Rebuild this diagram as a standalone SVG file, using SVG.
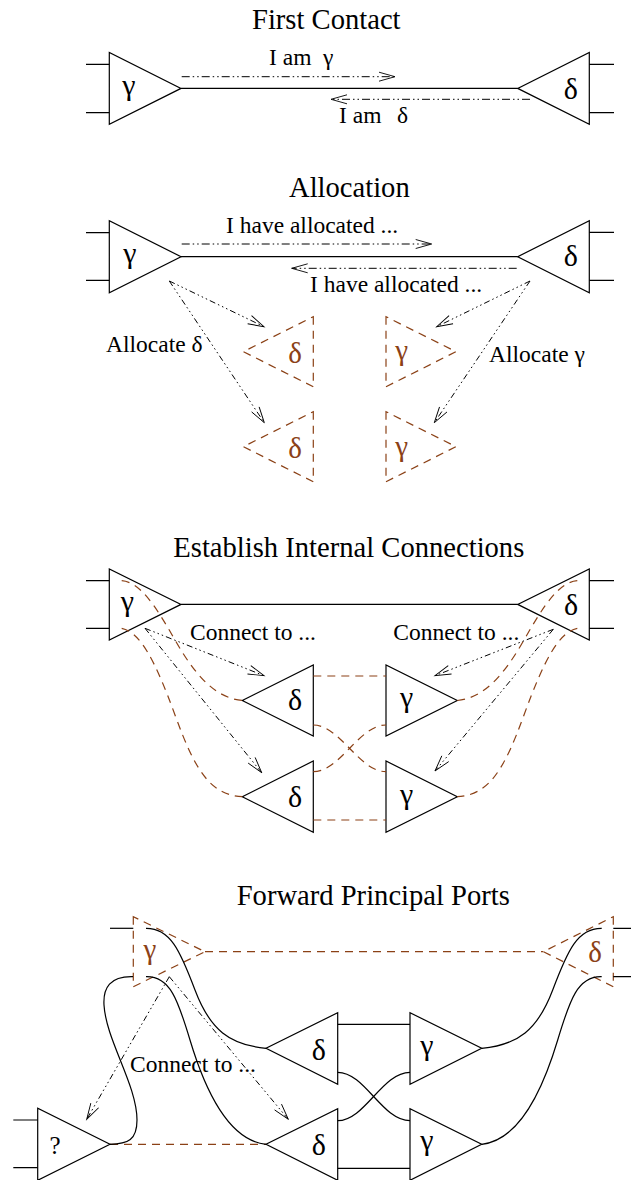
<svg xmlns="http://www.w3.org/2000/svg" width="631" height="1180" viewBox="0 0 631 1180">
  <style>
    text { font-family: "Liberation Serif", "Times New Roman", serif; fill: #000; }
    .title { font-size: 28.6px; }
    .lbl { font-size: 23.5px; }
    .sym { font-size: 30px; text-anchor: middle; }
    .symb { font-size: 29px; text-anchor: middle; fill: #8b4116; }
    .q { font-size: 25px; text-anchor: middle; }
    .agent { fill: none; stroke: #000; stroke-width: 1.2; stroke-linejoin: miter; }
    .ghost { fill: none; stroke: #8b4116; stroke-width: 1.2; stroke-dasharray: 8 6; }
    .wire { fill: none; stroke: #000; stroke-width: 1.2; }
    .dwire { fill: none; stroke: #8b4116; stroke-width: 1.2; stroke-dasharray: 8 6; }
    .msg { fill: none; stroke: #000; stroke-width: 1; stroke-dasharray: 8 3 1.5 3 1.5 3; marker-end: url(#ah); }
    .req { fill: none; stroke: #000; stroke-width: 1; stroke-dasharray: 6 3 1.5 3 1.5 3 1.5 3; marker-end: url(#ah); }
  </style>
  <defs>
    <marker id="ah" markerUnits="userSpaceOnUse" markerWidth="20" markerHeight="12" viewBox="-18 -6 20 12" refX="0" refY="0" orient="auto">
      <path d="M-16,-4.5 L0,0 L-16,4.5" fill="none" stroke="#000" stroke-width="0.9"/>
    </marker>
  </defs>

  <rect width="631" height="1180" fill="#fff"/>

  <!-- titles -->
  <text class="title" x="252" y="29">First Contact</text>
  <text class="title" x="289" y="196.7">Allocation</text>
  <text class="title" x="173.3" y="556.7">Establish Internal Connections</text>
  <text class="title" x="236.7" y="905">Forward Principal Ports</text>

  <!-- ===== First Contact ===== -->
  <g id="fc-gamma">
    <path class="agent" d="M109.3,52.5 L109.3,124.3 L181,88.4 Z"/>
    <path class="wire" d="M86,64.3 H109.3 M86,112.7 H109.3"/>
    <text class="sym" x="129" y="95">γ</text>
  </g>
  <g id="fc-delta">
    <path class="agent" d="M589.3,52.5 L589.3,124.3 L517.7,88.4 Z"/>
    <path class="wire" d="M589.3,64.3 H614 M589.3,112.7 H614"/>
    <text class="sym" x="570.8" y="98.5">δ</text>
  </g>
  <g id="fc-connectors">
    <path class="wire" d="M181,88.4 H517.7"/>
    <path class="msg" d="M181.7,76.7 H395"/>
    <path class="msg" d="M530,99.3 H331"/>
    <text class="lbl" x="269" y="65">I am<tspan x="323">γ</tspan></text>
    <text class="lbl" x="339" y="123">I am<tspan x="397">δ</tspan></text>
  </g>

  <!-- ===== Allocation ===== -->
  <g id="al-gamma">
    <path class="agent" d="M109.3,220.7 L109.3,292.7 L181,256.7 Z"/>
    <path class="wire" d="M86,232.7 H109.3 M86,280.3 H109.3"/>
    <text class="sym" x="130" y="263.4">γ</text>
  </g>
  <g id="al-delta">
    <path class="agent" d="M589.3,220.7 L589.3,292.7 L517.7,256.7 Z"/>
    <path class="wire" d="M589.3,232.3 H614 M589.3,280.3 H614"/>
    <text class="sym" x="570.8" y="266">δ</text>
  </g>
  <g id="al-new-delta-1">
    <path class="ghost" d="M313.3,316.7 L313.3,386.7 L243.3,351.7 Z"/>
    <text class="symb" x="295" y="363">δ</text>
  </g>
  <g id="al-new-delta-2">
    <path class="ghost" d="M313.3,411.7 L313.3,481.7 L243.3,446.7 Z"/>
    <text class="symb" x="295" y="458">δ</text>
  </g>
  <g id="al-new-gamma-1">
    <path class="ghost" d="M386,316.7 L386,386.7 L456,351.7 Z"/>
    <text class="symb" x="401.7" y="360">γ</text>
  </g>
  <g id="al-new-gamma-2">
    <path class="ghost" d="M386,411.7 L386,481.7 L456,446.7 Z"/>
    <text class="symb" x="401.7" y="455.7">γ</text>
  </g>
  <g id="al-connectors">
    <path class="wire" d="M181,256.7 H517.7"/>
    <path class="msg" d="M181.7,244 H431.7"/>
    <path class="msg" d="M516.7,268.3 H291.7"/>
    <text class="lbl" x="226" y="232.7">I have allocated ...</text>
    <text class="lbl" x="310" y="291.7">I have allocated ...</text>
    <path class="req" d="M169.3,281 L264,326.7"/>
    <path class="req" d="M169.3,281 L264.3,422.7"/>
    <path class="req" d="M530,281 L436.7,326.7"/>
    <path class="req" d="M530,281 L434.3,422.7"/>
    <text class="lbl" x="106" y="352.3">Allocate δ</text>
    <text class="lbl" x="489" y="362">Allocate γ</text>
  </g>

  <!-- ===== Establish Internal Connections ===== -->
  <g id="ic-gamma">
    <path class="agent" d="M109.3,569 L109.3,640 L181,604.4 Z"/>
    <path class="wire" d="M86,580.7 H109.3 M86,628.3 H109.3"/>
    <text class="sym" x="127.5" y="611">γ</text>
  </g>
  <g id="ic-delta">
    <path class="agent" d="M589.3,569 L589.3,640 L517.7,604.4 Z"/>
    <path class="wire" d="M589.3,580.7 H614 M589.3,628.3 H614"/>
    <text class="sym" x="571" y="614.5">δ</text>
  </g>
  <g id="ic-delta-1">
    <path class="agent" d="M313.3,665 L313.3,736 L242.3,700.5 Z"/>
    <text class="sym" x="295" y="709.5">δ</text>
  </g>
  <g id="ic-delta-2">
    <path class="agent" d="M313.3,761 L313.3,832.3 L242.3,796.7 Z"/>
    <text class="sym" x="295" y="807">δ</text>
  </g>
  <g id="ic-gamma-1">
    <path class="agent" d="M386,665 L386,736 L457.3,700.5 Z"/>
    <text class="sym" x="406.7" y="707">γ</text>
  </g>
  <g id="ic-gamma-2">
    <path class="agent" d="M386,761 L386,832.3 L457.3,796.7 Z"/>
    <text class="sym" x="406.7" y="803.5">γ</text>
  </g>
  <g id="ic-connectors">
    <path class="wire" d="M181,604.4 H517.7"/>
    <path class="dwire" d="M313.3,676 H386"/>
    <path class="dwire" d="M313.3,820 H386"/>
    <path class="dwire" d="M313.3,725 C340,725 359,771.7 386,771.7"/>
    <path class="dwire" d="M313.3,771.7 C340,771.7 359,725 386,725"/>
    <path class="dwire" d="M121.7,580.7 C140,582 155,605 175,640 S215,698 242.3,700.5"/>
    <path class="dwire" d="M121.7,628.3 C140,632 155,660 175,715 S210,795 242.3,796.7"/>
    <path class="dwire" d="M577.3,580.7 C559,582 544,605 524,640 S484,698 457.3,700.5"/>
    <path class="dwire" d="M577.3,628.3 C559,632 544,660 524,715 S489,795 457.3,796.7"/>
    <path class="req" d="M145,628.3 L264,675.7"/>
    <path class="req" d="M145,628.3 L261.7,772.7"/>
    <path class="req" d="M553.3,629.3 L435,675.7"/>
    <path class="req" d="M553.3,629.3 L435,771"/>
    <text class="lbl" x="190" y="640">Connect to ...</text>
    <text class="lbl" x="393.3" y="640">Connect to ...</text>
  </g>

  <!-- ===== Forward Principal Ports ===== -->
  <g id="fp-gamma">
    <path class="ghost" d="M133.3,916.7 L133.3,986.7 L205,951.7 Z"/>
    <path class="wire" d="M110,928.3 H133.3"/>
    <text class="symb" x="150" y="958.5">γ</text>
  </g>
  <g id="fp-delta">
    <path class="ghost" d="M613.3,916.7 L613.3,986.7 L543.3,951.7 Z"/>
    <path class="wire" d="M613.3,928.3 H631 M613.3,976.7 H631"/>
    <text class="symb" x="595" y="962">δ</text>
  </g>
  <g id="fp-unknown">
    <path class="agent" d="M37.7,1108.3 L37.7,1180.3 L110,1144.3 Z"/>
    <path class="wire" d="M13.3,1120 H37.7 M13.3,1167.7 H37.7"/>
    <text class="q" x="55" y="1154">?</text>
  </g>
  <g id="fp-delta-1">
    <path class="agent" d="M337.7,1012.7 L337.7,1084.3 L266,1048.3 Z"/>
    <text class="sym" x="318.8" y="1059.5">δ</text>
  </g>
  <g id="fp-delta-2">
    <path class="agent" d="M337.7,1108.7 L337.7,1180.3 L266,1144.3 Z"/>
    <text class="sym" x="318.8" y="1154.5">δ</text>
  </g>
  <g id="fp-gamma-1">
    <path class="agent" d="M410,1012.7 L410,1084.3 L481.7,1048.3 Z"/>
    <text class="sym" x="427" y="1055">γ</text>
  </g>
  <g id="fp-gamma-2">
    <path class="agent" d="M410,1108.7 L410,1180.3 L481.7,1144.3 Z"/>
    <text class="sym" x="427" y="1150">γ</text>
  </g>
  <g id="fp-connectors">
    <path class="dwire" d="M205,951.7 H543.3"/>
    <path class="dwire" d="M110,1144.3 H266"/>
    <path class="wire" d="M337.7,1024.3 H410"/>
    <path class="wire" d="M337.7,1168.3 H410"/>
    <path class="wire" d="M337.7,1072.3 C365,1072.3 382,1120.7 410,1120.7"/>
    <path class="wire" d="M337.7,1120.7 C365,1120.7 382,1072.3 410,1072.3"/>
    <path class="wire" d="M146,928.3 C170,928 180,950 195,990 S230,1045 266,1048.3"/>
    <path class="wire" d="M146,976.7 C170,976 178,1000 190,1040 S225,1140 266,1144.3"/>
    <path class="wire" d="M601.7,928.3 C577.7,928 567.7,950 552.7,990 S517.7,1045 481.7,1048.3"/>
    <path class="wire" d="M601.7,976.7 C577.7,976 569.7,1000 557.7,1040 S522.7,1140 481.7,1144.3"/>
    <path class="wire" d="M133,976.7 C110,976 103,988 104,1005 C106,1040 137,1085 137,1120 C137,1140 128,1144 110,1144.3"/>
    <path class="req" d="M169.3,976.7 L86.7,1119.3"/>
    <path class="req" d="M169.3,976.7 L288.3,1119.3"/>
    <text class="lbl" x="130" y="1071.7">Connect to ...</text>
  </g>
</svg>
